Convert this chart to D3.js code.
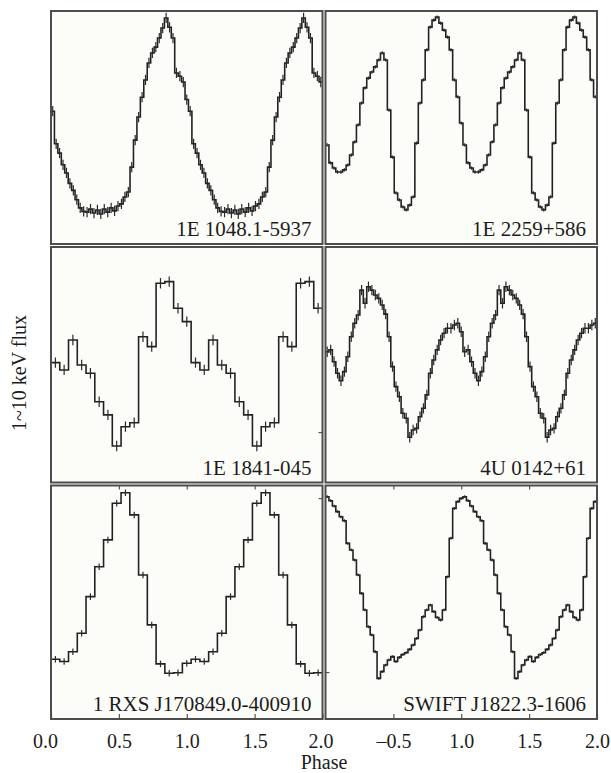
<!DOCTYPE html>
<html>
<head>
<meta charset="utf-8">
<script src="https://cdn.jsdelivr.net/npm/d3@7"></script>
<style>
  body { margin: 0; background: #fff; }
  svg { display: block; }
  text { font-family: "Liberation Serif", "Times New Roman", serif; fill: #1c1c1c; }
</style>
</head>
<body>
<svg id="chart" width="611" height="773"></svg>
<script>
// Pulse profiles of six magnetars, 1-10 keV, folded and shown over two cycles.
const sources = ["1E 1048.1-5937", "1E 2259+586", "1E 1841-045",
                 "4U 0142+61", "1 RXS J170849.0-400910", "SWIFT J1822.3-1606"];

// Normalised flux per phase bin (bins span phase 0-2 evenly).
const flux1048 = [
  57, 43, 39, 34, 30.5, 26, 23, 19, 15.5, 14, 13.7, 15, 13.3, 14.6, 12.9, 15, 13.7, 15.5, 14.2, 16.3,
  17.2, 20.2, 22.3, 33, 44.6, 54.5, 63, 70.4, 77.7, 82, 84.5, 88.4, 92.7, 97, 93, 88.4, 73.4, 72, 69.5, 62,
  57, 43, 39, 34, 30.5, 26, 23, 19, 15.5, 14, 13.7, 15, 13.3, 14.6, 12.9, 15, 13.7, 15.5, 14.2, 16.3,
  17.2, 20.2, 22.3, 33, 44.6, 54.5, 63, 70.4, 77.7, 82, 84.5, 88.4, 92.7, 97, 93, 88.4, 73.4, 72, 69.5
];
const flux2259 = [
  42.5, 34.8, 32.6, 30.9, 30.9, 31.8, 33.9, 38.2, 43.8, 51.1, 60.5, 67, 71.2, 73.8, 76, 79, 82, 79, 57.5, 37.3,
  21.9, 18.9, 15.9, 14.6, 16.7, 20.2, 43.3, 60.5, 70.4, 83.3, 93.1, 96.1, 97.4, 94.8, 91.8, 88.8, 83.3, 70.4, 63.1, 51.9,
  42.5, 34.8, 32.6, 30.9, 30.9, 31.8, 33.9, 38.2, 43.8, 51.1, 60.5, 67, 71.2, 73.8, 76, 79, 82, 79, 57.5, 37.3,
  21.9, 18.9, 15.9, 14.6, 16.7, 20.2, 43.3, 60.5, 70.4, 83.3, 93.1, 96.1, 97.4, 94.8, 91.8, 88.8, 83.3, 70.4, 63.1
];
const flux1841 = [
  50.9, 47.8, 60.5, 49.9, 46.4, 34.3, 28.7, 15.5, 23.7, 25.4, 61.9, 57.7, 84.6, 85.3, 74.0, 68.3,
  50.9, 47.8, 60.5, 49.9, 46.4, 34.3, 28.7, 15.5, 23.7, 25.4, 61.9, 57.7, 84.6, 85.3, 74.0
];
const flux0142 = [
  55.5, 56.3, 51.3, 46.4, 43.2, 47.1, 53.4, 61.9, 67.6, 71.1, 81.7, 76.1, 83.1, 81.7, 79.6, 78.2, 75.4, 71.5, 61.9, 49.2,
  40.7, 36.4, 29.4, 27.3, 19.2, 22.3, 23.0, 27.9, 31.5, 37.2, 46.4, 52.0, 56.3, 60.5, 63.4, 65.5, 65.5, 66.9, 67.6, 64.0,
  55.5, 56.3, 51.3, 46.4, 43.2, 47.1, 53.4, 61.9, 67.6, 71.1, 81.7, 76.1, 83.1, 81.7, 79.6, 78.2, 75.4, 71.5, 61.9, 49.2,
  40.7, 36.4, 29.4, 27.3, 19.2, 22.3, 23.0, 27.9, 31.5, 37.2, 46.4, 52.0, 56.3, 60.5, 63.4, 65.5, 65.5, 66.9, 67.6
];
const flux1708 = [
  25.6, 24.6, 28.8, 36.7, 52.4, 65.2, 76.7, 92.4, 96.9, 87.4, 61.7, 40.3, 23.6, 19.6, 19.8, 23.9,
  25.6, 24.6, 28.8, 36.7, 52.4, 65.2, 76.7, 92.4, 96.9, 87.4, 61.7, 40.3, 23.6, 19.6, 19.8
];
const flux1822 = [
  95.2, 93.5, 91.2, 88.8, 86.6, 84.9, 75.2, 72.4, 68.1, 61.7, 53.8, 46.7, 39.5, 36.0, 28.8, 17.4, 20.3, 23.1, 25.3, 26.7,
  24.6, 26.4, 27.6, 28.4, 29.8, 31.7, 34.5, 38.1, 43.8, 46.7, 48.8, 46.0, 43.5, 42.4, 46.7, 60.9, 77.4, 90.2, 93.1, 94.5,
  95.2, 93.5, 91.2, 88.8, 86.6, 84.9, 75.2, 72.4, 68.1, 61.7, 53.8, 46.7, 39.5, 36.0, 28.8, 17.4, 20.3, 23.1, 25.3, 26.7,
  24.6, 26.4, 27.6, 28.4, 29.8, 31.7, 34.5, 38.1, 43.8, 46.7, 48.8, 46.0, 43.5, 42.4, 46.7, 60.9, 77.4, 90.2, 93.1
];

// Half-length of the error bar on each profile, same units as the flux.
const fluxErr = [2.2, 0.7, 2.2, 2.2, 1.4, 0.6];

// Phase axis ticks and labels for the left and right columns.
const phaseTicksLeft = [0, 0.5, 1, 1.5, 2];
const phaseLabelsLeft = ["0.0", "0.5", "1.0", "1.5", "2.0"];
const phaseTicksRight = [0.5, 1, 1.5, 2];
const phaseLabelsRight = ["\u20130.5", "1.0", "1.5", "2.0"];

// Flux ticks marked on the inner edge of each panel.
const fluxTicks = [[71.7], [42.9], [74.1, 21.4], [55.4], [94.6], [20.1]];

const profiles = [flux1048, flux2259, flux1841, flux0142, flux1708, flux1822];

const svg = d3.select("#chart");

const cols = [[51, 322.5], [325.5, 597]];
const rows = [[11, 244], [247, 482.5], [485.5, 719]];

const defs = svg.append("defs");

profiles.forEach((vals, k) => {
  const col = k % 2, row = Math.floor(k / 2);
  const [x0, x1] = cols[col];
  const [y0, y1] = rows[row];
  const x = d3.scaleLinear().domain([0, 2]).range([x0, x1]);
  const y = d3.scaleLinear().domain([0, 100]).range([y1, y0]);
  const n = vals.length;
  const binW = 2 / n;

  const g = svg.append("g").attr("class", "panel");

  g.append("rect")
    .attr("x", x0).attr("y", y0)
    .attr("width", x1 - x0).attr("height", y1 - y0)
    .attr("fill", "#fcfcf9");

  defs.append("clipPath").attr("id", "clip" + k)
    .append("rect")
    .attr("x", x0).attr("y", y0)
    .attr("width", x1 - x0).attr("height", y1 - y0);

  const plot = g.append("g").attr("clip-path", `url(#clip${k})`);

  // stepped light curve
  const pts = vals.map((v, i) => [i * binW, v]);
  pts.push([2, vals[n - 1]]);
  const line = d3.line()
    .x(d => x(d[0])).y(d => y(d[1]))
    .curve(d3.curveStepAfter);
  plot.append("path")
    .attr("d", line(pts))
    .attr("fill", "none")
    .attr("stroke", "#222")
    .attr("stroke-width", 1.6)
    .attr("stroke-linejoin", "miter");

  // error bars at bin centres
  plot.selectAll("line.err")
    .data(vals)
    .join("line")
    .attr("class", "err")
    .attr("x1", (v, i) => x((i + 0.5) * binW))
    .attr("x2", (v, i) => x((i + 0.5) * binW))
    .attr("y1", v => y(v - fluxErr[k]))
    .attr("y2", v => y(v + fluxErr[k]))
    .attr("stroke", "#2a2a2a")
    .attr("stroke-width", 1.2);

  // inner flux ticks: left panels on their right edge, right panels on their left edge
  const yAxis = col === 0
    ? d3.axisRight(y).tickValues(fluxTicks[k]).tickFormat("").tickSizeInner(-4).tickSizeOuter(0)
    : d3.axisLeft(y).tickValues(fluxTicks[k]).tickFormat("").tickSizeInner(-4).tickSizeOuter(0);
  const ya = g.append("g")
    .attr("transform", `translate(${col === 0 ? x1 : x0},0)`)
    .call(yAxis);
  ya.select(".domain").remove();
  ya.selectAll("line").attr("stroke", "#555").attr("stroke-width", 1.2);

  // phase ticks and labels on the bottom row
  if (row === 2) {
    const ticks = col === 0 ? phaseTicksLeft : phaseTicksRight;
    const labels = col === 0 ? phaseLabelsLeft : phaseLabelsRight;
    const xb = g.append("g")
      .attr("transform", `translate(0,${y1})`)
      .call(d3.axisBottom(x).tickValues(ticks)
        .tickFormat((d, i) => labels[i])
        .tickSizeInner(-5).tickSizeOuter(0).tickPadding(15));
    xb.select(".domain").remove();
    xb.selectAll("line").attr("stroke", "#555").attr("stroke-width", 1.2);
    xb.selectAll("text")
      .attr("font-family", '"Liberation Serif", "Times New Roman", serif')
      .attr("font-size", 20).attr("fill", "#1c1c1c")
      .attr("dx", d => (d === 0 ? -6 : d === 2 && col === 0 ? -2 : 0));

    const xt = g.append("g")
      .attr("transform", `translate(0,${y0})`)
      .call(d3.axisTop(x).tickValues([0.5, 1, 1.5]).tickFormat("")
        .tickSizeInner(-4).tickSizeOuter(0));
    xt.select(".domain").remove();
    xt.selectAll("line").attr("stroke", "#555").attr("stroke-width", 1.2);
  }

  // frame
  g.append("rect")
    .attr("x", x0).attr("y", y0)
    .attr("width", x1 - x0).attr("height", y1 - y0)
    .attr("fill", "none")
    .attr("stroke", "#4d4d4d")
    .attr("stroke-width", 2);

  // source name
  g.append("text")
    .attr("x", x1 - 11)
    .attr("y", y1 - 8)
    .attr("text-anchor", "end")
    .attr("font-size", 21)
    .text(sources[k]);
});

// axis titles
svg.append("text")
  .attr("x", 324).attr("y", 769)
  .attr("text-anchor", "middle")
  .attr("font-size", 20)
  .text("Phase");

svg.append("text")
  .attr("transform", "translate(26,373) rotate(-90)")
  .attr("text-anchor", "middle")
  .attr("font-size", 20)
  .text("1~10 keV flux");
</script>
</body>
</html>
